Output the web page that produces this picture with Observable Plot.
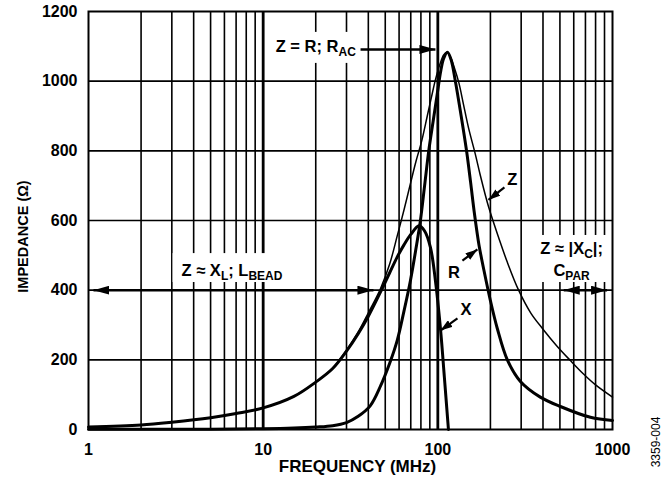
<!DOCTYPE html>
<html>
<head>
<meta charset="utf-8">
<title>Ferrite bead impedance vs frequency</title>
<script src="https://cdn.jsdelivr.net/npm/d3@7"></script>
<script src="https://cdn.jsdelivr.net/npm/@observablehq/plot@0.6"></script>
<style>
  html, body { margin: 0; padding: 0; background: #fff; }
  #chart { position: relative; width: 669px; height: 480px; overflow: hidden; }
  #chart svg { font-weight: bold; }
  #figno {
    position: absolute; left: 656px; top: 442px;
    font: 12px "Liberation Sans", Arial, sans-serif; color: #000;
    transform: translate(-50%, -50%) rotate(-90deg); white-space: nowrap;
  }
</style>
</head>
<body>
<div id="chart"></div>
<script>
// Impedance components of a ferrite bead (Ω) against frequency (MHz)
const zFreq = [1, 2, 3, 5, 7, 10, 15, 20, 25, 30, 35, 40, 47, 53, 58.5, 64, 70, 75, 81, 87, 92, 97, 103, 108, 112.5, 118, 125, 132, 140, 150, 164, 175, 195, 225, 250, 290, 340, 400, 480, 574, 680, 800, 1000];
const zImp  = [7, 13, 21, 34, 46, 62, 95, 136, 176, 228, 280, 335, 405, 475, 555, 630, 710, 770, 830, 900, 955, 1005, 1050, 1075, 1083, 1070, 1035, 995, 935, 865, 790, 730, 640, 545, 480, 400, 335, 288, 240, 198, 160, 128, 93];

const rFreq = [1, 5, 10, 15, 20, 25, 30, 35, 41, 47, 53, 58.5, 64, 69.7, 75, 79.5, 84, 88.7, 94, 99, 104, 108, 113.5, 119, 126, 136, 146, 154, 162, 172, 184, 200, 219, 250, 297, 386, 503, 747, 1000];
const rImp  = [1, 1, 2, 4, 7, 11, 20, 38, 68, 125, 190, 255, 340, 428, 520, 600, 700, 800, 885, 960, 1030, 1065, 1083, 1062, 1000, 900, 800, 710, 620, 530, 455, 370, 290, 200, 138, 93, 66, 35, 26];

const xFreq = [1, 2, 3, 5, 7, 10, 15, 20, 25, 30, 35, 40, 47, 53, 58.5, 64, 70, 78, 84, 90.7, 97, 103.5, 109, 115];
const xImp  = [7, 13, 21, 34, 46, 62, 95, 136, 175, 225, 275, 325, 395, 450, 495, 530, 560, 585, 570, 523, 425, 290, 150, 0];

// Axes and grid
const freqTicks = [1, 10, 100, 1000];
const impTicks = [0, 200, 400, 600, 800, 1000, 1200];
const minorGrid = [2, 3, 4, 5, 6, 7, 8, 9, 20, 30, 40, 50, 60, 70, 80, 90, 200, 300, 400, 500, 600, 700, 800, 900];
const decadeGrid = [10, 100];
const impGrid = [200, 400, 600, 800, 1000];

// Region notes (text, centre point in data units); "_{...}" marks a subscript
const noteText = ["Z = R; R_{AC}", "Z ≈ X_{L}; L_{BEAD}", "Z ≈ |X_{C}|;", "C_{PAR}"];
const noteFreq = [20, 6.63, 583, 583];
const noteImp  = [1099, 455, 518, 457];

// White backing panels behind the notes
const boxFreq1 = [10.8, 3.05, 352];
const boxFreq2 = [36.5, 16, 955];
const boxImp1  = [1051, 422, 422];
const boxImp2  = [1140, 505, 557];

// Curve tags with pointer arrows
const tagText = ["Z", "R", "X"];
const tagFreq = [267, 123.7, 144.9];
const tagImp  = [718, 451, 345];
const tagFromFreq = [240.6, 138.3, 129.5];
const tagFromImp  = [695, 485, 319];
const tagToFreq   = [194.9, 168.5, 103.5];
const tagToImp    = [659, 517, 284];

// Range arrows
const spanFromFreq = [1.068, 526];
const spanToFreq   = [42.8, 931];
const spanImp      = [400, 400];
const peakArrowFreq = [36.1, 96.9];
const peakArrowImp  = 1091;

const rows = (f, v) => f.map((d, i) => ({f: d, v: v[i]}));
const idx = (a) => a.map((_, i) => i);

// Solid triangular arrowhead marker, sized in pixels
function solidHead(len, half) {
  return (color) => {
    const m = d3.create("svg:marker")
      .attr("viewBox", `${-len} ${-half} ${len} ${2 * half}`)
      .attr("markerUnits", "userSpaceOnUse")
      .attr("markerWidth", len)
      .attr("markerHeight", 2 * half)
      .attr("refX", 0)
      .attr("refY", 0)
      .attr("orient", "auto-start-reverse")
      .attr("fill", color)
      .attr("stroke", "none");
    m.append("path").attr("d", `M0,0L${-len},${-half}L${-len},${half}Z`);
    return m.node();
  };
}
const bigHead = solidHead(16, 4.5);
const smallHead = solidHead(12, 4);

const chart = Plot.plot({
  width: 669,
  height: 480,
  marginLeft: 88,
  marginRight: 57,
  marginTop: 11,
  marginBottom: 51,
  style: {fontFamily: "'Liberation Sans', Arial, Helvetica, sans-serif", fontSize: "16px", color: "#000"},
  x: {type: "log", domain: [1, 1000]},
  y: {domain: [0, 1200]},
  marks: [
    Plot.ruleX(minorGrid, {stroke: "#000", strokeWidth: 1.6}),
    Plot.ruleX(decadeGrid, {stroke: "#000", strokeWidth: 2.8}),
    Plot.ruleY(impGrid, {stroke: "#000", strokeWidth: 1.6}),
    Plot.rect(idx(boxFreq1), {
      x1: (i) => boxFreq1[i], x2: (i) => boxFreq2[i],
      y1: (i) => boxImp1[i], y2: (i) => boxImp2[i],
      fill: "#fff"
    }),
    Plot.frame({stroke: "#000", strokeWidth: 2}),
    Plot.axisX({ticks: freqTicks, tickSize: 0, tickPadding: 14, tickFormat: d3.format("d"), label: null}),
    Plot.axisY({ticks: impTicks, tickSize: 0, tickPadding: 11, tickFormat: d3.format("d"), label: null}),
    Plot.text(["FREQUENCY (MHz)"], {
      text: (d) => d, frameAnchor: "bottom", textAnchor: "middle", lineAnchor: "middle",
      dx: 7, dy: 37, fontSize: 17
    }),
    Plot.text(["IMPEDANCE (Ω)"], {
      text: (d) => d, frameAnchor: "left", textAnchor: "middle", lineAnchor: "middle",
      rotate: -90, dx: -65, dy: 16, fontSize: 14.5
    }),

    // Curves
    Plot.line(rows(zFreq, zImp), {x: "f", y: "v", curve: "catmull-rom", stroke: "#000", strokeWidth: 1.5}),
    Plot.line(rows(rFreq, rImp), {x: "f", y: "v", curve: "catmull-rom", stroke: "#000", strokeWidth: 3}),
    Plot.line(rows(xFreq, xImp), {x: "f", y: "v", curve: "catmull-rom", stroke: "#000", strokeWidth: 3}),

    // Arrows
    Plot.link([0], {
      x1: peakArrowFreq[0], x2: peakArrowFreq[1], y1: peakArrowImp, y2: peakArrowImp,
      stroke: "#000", strokeWidth: 2.5, markerEnd: bigHead
    }),
    Plot.link(idx(spanFromFreq), {
      x1: (i) => spanFromFreq[i], x2: (i) => spanToFreq[i],
      y1: (i) => spanImp[i], y2: (i) => spanImp[i],
      stroke: "#000", strokeWidth: 2.5, markerStart: bigHead, markerEnd: bigHead
    }),
    Plot.link(idx(tagText), {
      x1: (i) => tagFromFreq[i], y1: (i) => tagFromImp[i],
      x2: (i) => tagToFreq[i], y2: (i) => tagToImp[i],
      stroke: "#000", strokeWidth: 2.2, markerEnd: smallHead
    }),

    // Labels
    Plot.text(idx(noteText), {
      x: (i) => noteFreq[i], y: (i) => noteImp[i], text: (i) => noteText[i],
      textAnchor: "middle", fontSize: 16.5, fill: "#000"
    }),
    Plot.text(idx(tagText), {
      x: (i) => tagFreq[i], y: (i) => tagImp[i], text: (i) => tagText[i],
      fontSize: 16.5, fill: "#000"
    })
  ]
});

// Turn "_{...}" runs into lowered, smaller tspans
d3.select(chart).selectAll("text").each(function () {
  const t = this.textContent;
  if (!t.includes("_{")) return;
  const sel = d3.select(this).text(null);
  const parts = t.split(/(_\{[^}]*\})/).filter((s) => s);
  let lowered = false;
  for (const p of parts) {
    if (p.startsWith("_{")) {
      sel.append("tspan").attr("font-size", 12).attr("dy", lowered ? 0 : 4).text(p.slice(2, -1));
      lowered = true;
    } else {
      sel.append("tspan").attr("dy", lowered ? -4 : 0).text(p);
      lowered = false;
    }
  }
});

const holder = document.getElementById("chart");
holder.appendChild(chart);
const fig = document.createElement("div");
fig.id = "figno";
fig.textContent = "3359-004";
holder.appendChild(fig);
</script>
</body>
</html>
